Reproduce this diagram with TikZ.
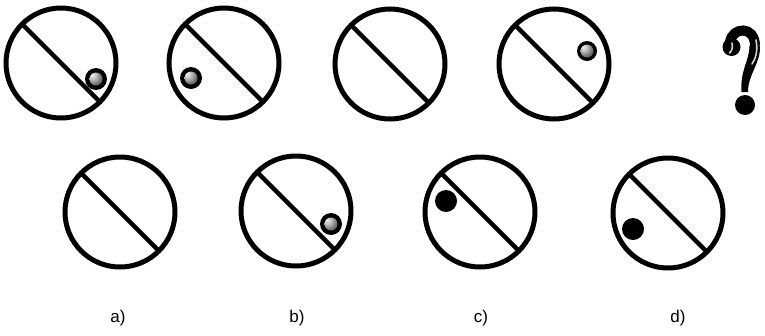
\documentclass[tikz,border=0pt]{standalone}
\usepackage{fontspec}
\setmainfont{Liberation Sans}
\begin{document}
\begin{tikzpicture}[x=1pt,y=-1pt,
  ring/.style={circle,draw=black,line width=5pt,inner sep=0pt,outer sep=0pt,minimum size=110pt},
  bar/.style={line width=4.5pt,line cap=butt},
  shadedball/.style={circle,fill=black,inner sep=0pt,minimum size=22pt,
    path picture={\shade[ball color=gray!70] (path picture bounding box.center) circle (6.5pt);}},
  blackball/.style={circle,fill=black,inner sep=0pt,minimum size=22pt},
  hilite/.style={white!65!gray,line width=1.6pt,line cap=round},
  lbl/.style={font=\fontsize{17}{20}\selectfont,inner sep=0pt}]
\useasboundingbox (0,0) rectangle (765,335);
% top row
\node[ring] (c1) at (61,63) {};
\node[ring] (c2) at (224,63) {};
\node[ring] (c3) at (390,64) {};
\node[ring] (c4) at (554,64) {};
\draw[bar] (c1.135) -- (c1.-45);
\draw[bar] (c2.135) -- (c2.-45);
\draw[bar] (c3.135) -- (c3.-45);
\draw[bar] (c4.135) -- (c4.-45);
\node[shadedball] (b1) at (96,79) {};
\node[shadedball] (b2) at (191,78) {};
\node[shadedball,minimum size=20pt] (b4) at (587,51) {};
% question mark
\coordinate (q) at (740,70);
\fill (731.5,47) circle (9pt);
\draw[line width=10pt] (730,42) .. controls (732,27) and (755,25) .. (755,46);
\fill (749.5,46) .. controls (749,62) and (740,70) .. (741.5,92) -- (748,92)
   .. controls (748,74) and (760.5,64) .. (760,46) -- cycle;
\draw[hilite] (732,43) .. controls (733,47) and (732,51) .. (729.5,53);
\draw[hilite] (756,40) .. controls (758,50) and (756,58) .. (752,64);
\fill (745,105) circle (10pt);
% bottom row
\node[ring] (ca) at (120,212) {};
\node[ring] (cb) at (296,211) {};
\node[ring] (cc) at (480,212) {};
\node[ring] (cd) at (668,213) {};
\draw[bar] (ca.135) -- (ca.-45);
\draw[bar] (cb.135) -- (cb.-45);
\draw[bar] (cc.135) -- (cc.-45);
\draw[bar] (cd.135) -- (cd.-45);
\node[shadedball] (bb) at (331,224) {};
\node[blackball] (bc) at (446,201) {};
\node[blackball] (bd) at (633,229) {};
% labels
\node[lbl] (la) at (118,318) {a)};
\node[lbl] (lb) at (297,318) {b)};
\node[lbl] (lc) at (481,318) {c)};
\node[lbl] (ld) at (678,318) {d)};
\end{tikzpicture}
\end{document}
